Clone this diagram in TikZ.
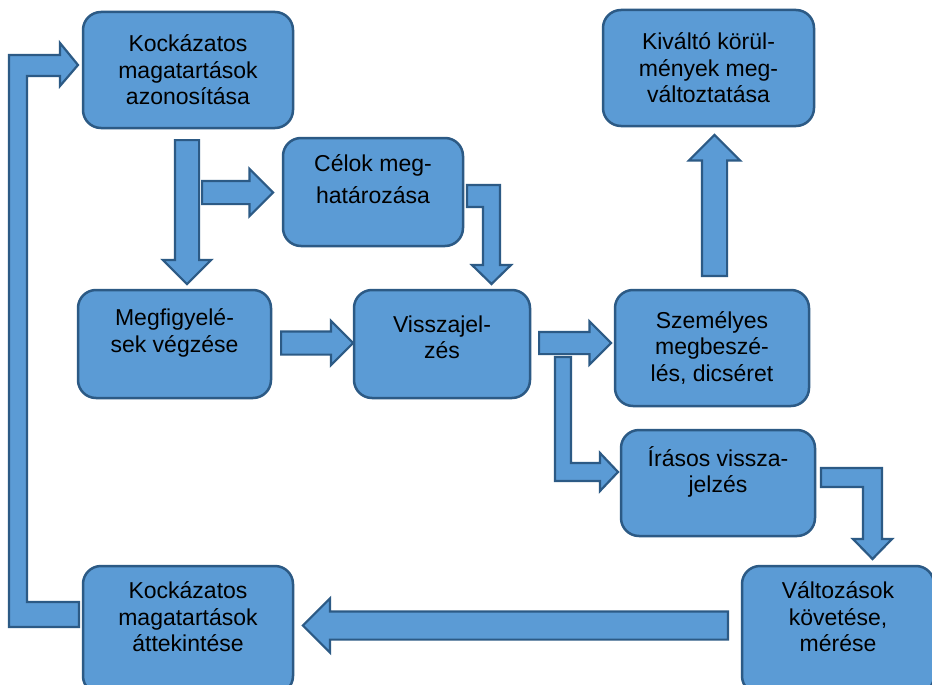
\documentclass[tikz,border=0pt]{standalone}
\usepackage{fontspec}
\setmainfont{Liberation Sans}
\usepackage{tikz}
\usetikzlibrary{shapes.arrows}
\definecolor{boxfill}{HTML}{5B9BD5}
\definecolor{boxline}{HTML}{2C5A85}
\newcommand\boxfont{\fontsize{23}{26.5}\selectfont}
\begin{document}
\begin{tikzpicture}[x=1pt,y=-1pt,
	box/.style={draw=boxline, fill=boxfill, line width=2.5pt, rounded corners=18pt,
		align=center, inner sep=0pt, font=\boxfont},
	barrow/.style={single arrow, draw=boxline, fill=boxfill, line width=2.2pt,
		inner xsep=0pt, single arrow tip angle=90, anchor=tail},
	bentarrow/.style={draw=boxline, fill=boxfill, line width=2.2pt, line join=miter}]
	%% page
	\path[use as bounding box, fill=white] (0,0) rectangle (932,685);

	%% the boxes
	\node[box, minimum width=210, minimum height=116] (azon) at (188,70)
		{Kockázatos\\magatartások\\azonosítása};
	\node[box, minimum width=211, minimum height=116] (kival) at (708.5,68)
		{Kiváltó körül-\\mények meg-\\változtatása};
	\node[box, minimum width=180, minimum height=108] (celok) at (373,192)
		{Célok meg-\\[5.5pt]határozása\\\mbox{}};
	\node[box, minimum width=193, minimum height=108] (megf) at (174.5,344)
		{Megfigyelé-\\sek végzése\\\mbox{}};
	\node[box, minimum width=176, minimum height=108] (vissza) at (442,344)
		{Visszajel-\\zés\\[-13pt]\mbox{}};
	\node[box, minimum width=194, minimum height=116] (szem) at (712,348)
		{Személyes\\megbeszé-\\lés, dicséret};
	\node[box, minimum width=194, minimum height=106] (iras) at (718,483)
		{Írásos vissza-\\jelzés\\\mbox{}};
	\node[box, minimum width=192, minimum height=128] (valt) at (838,630)
		{Változások\\követése,\\mérése\\\mbox{}};
	\node[box, minimum width=210, minimum height=128] (attek) at (188,630)
		{Kockázatos\\magatartások\\áttekintése\\\mbox{}};

	%% straight block arrows, placed by their tail (shaft = 2*inner ysep)
	\node[barrow, rotate=-90, minimum height=144, inner ysep=11,
		single arrow head extend=12] (azon-megf) at (187,139) {};
	\node[barrow, minimum height=71, inner ysep=10.5,
		single arrow head extend=12] (azon-celok) at (201,192.5) {};
	\node[barrow, minimum height=72, inner ysep=10.5,
		single arrow head extend=10.5] (megf-vissza) at (280,343) {};
	\node[barrow, minimum height=72, inner ysep=10,
		single arrow head extend=10.5] (vissza-szem) at (538,343) {};
	\node[barrow, rotate=90, minimum height=141, inner ysep=11.5,
		single arrow head extend=13] (szem-kival) at (714.5,277) {};
	\node[barrow, rotate=180, minimum height=425, inner ysep=13,
		single arrow head extend=13] (valt-attek) at (729,625.5) {};

	%% bent block arrows
	% back to the start
	\filldraw[bentarrow] (79,602) -- (27,602) -- (27,76) -- (60,76) -- (60,86)
		-- (78,65) -- (60,43) -- (60,55) -- (9,55) -- (9,627) -- (79,627) -- cycle;
	% goals -> feedback
	\filldraw[bentarrow] (467,185) -- (500,185) -- (500,265) -- (511,265)
		-- (491.5,284) -- (472,265) -- (483,265) -- (483,207) -- (467,207) -- cycle;
	% feedback -> written
	\filldraw[bentarrow] (555,357) -- (571,357) -- (571,463) -- (600,463)
		-- (600,453) -- (618,472) -- (600,491) -- (600,481) -- (555,481) -- cycle;
	% written -> follow-up
	\filldraw[bentarrow] (821,468) -- (882,468) -- (882,539) -- (892,539)
		-- (872.5,559) -- (853,539) -- (863,539) -- (863,487) -- (821,487) -- cycle;
\end{tikzpicture}
\end{document}
